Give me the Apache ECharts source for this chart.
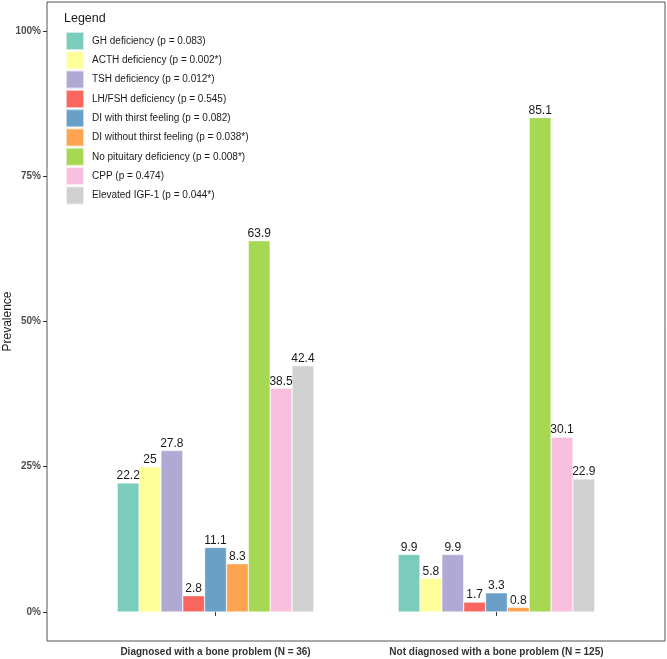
<!DOCTYPE html>
<html>
<head>
<meta charset="utf-8">
<script src="https://cdn.jsdelivr.net/npm/echarts@6/dist/echarts.min.js"></script>
<style>html,body{margin:0;padding:0;background:#fff}#c{width:667px;height:659px}</style>
</head>
<body>
<div id="c"></div>
<script>
const groups = ['Diagnosed with a bone problem (N = 36)', 'Not diagnosed with a bone problem (N = 125)'];
const seriesNames = ['GH deficiency (p = 0.083)', 'ACTH deficiency (p = 0.002*)', 'TSH deficiency (p = 0.012*)', 'LH/FSH deficiency (p = 0.545)', 'DI with thirst feeling (p = 0.082)', 'DI without thirst feeling (p = 0.038*)', 'No pituitary deficiency (p = 0.008*)', 'CPP (p = 0.474)', 'Elevated IGF-1 (p = 0.044*)'];
const diagnosed = [22.2, 25, 27.8, 2.8, 11.1, 8.3, 63.9, 38.5, 42.4];
const notDiagnosed = [9.9, 5.8, 9.9, 1.7, 3.3, 0.8, 85.1, 30.1, 22.9];
const colors = ['#7ACCBB', '#FFFF99', '#B0A9D3', '#F8665E', '#6A9FC8', '#FCA44F', '#A6D854', '#F9BFDF', '#D0D0D0'];
const yTicks = [0, 25, 50, 75, 100];

const font = 'Liberation Sans, Arial, sans-serif';
const chart = echarts.init(document.getElementById('c'), null, {renderer: 'canvas'});
const series = seriesNames.map((n, i) => ({
  name: n,
  type: 'bar',
  barGap: 0,
  barCategoryGap: '30%',
  data: [[1, diagnosed[i]], [2, notDiagnosed[i]]],
  itemStyle: {color: colors[i], borderColor: 'rgba(255,255,255,0.6)', borderWidth: 0.6},
  label: {show: true, position: 'top', distance: 1, fontSize: 12, color: '#1a1a1a', fontFamily: font,
    formatter: p => String(p.value[1])},
  emphasis: {disabled: true}
}));
chart.setOption({
  animation: false,
  textStyle: {fontFamily: font},
  title: {text: 'Legend', left: 64, top: 12, textStyle: {fontSize: 12.5, fontWeight: 'normal', color: '#1a1a1a', fontFamily: font}, padding: 0},
  legend: {
    orient: 'vertical', left: 65, top: 31, padding: 0,
    itemWidth: 18, itemHeight: 18, itemGap: -0.7,
    icon: 'rect',
    textStyle: {fontSize: 10, color: '#1a1a1a', fontFamily: font, padding: [0, 0, 0, 3]},
    data: seriesNames
  },
  grid: {left: 47, right: 2, top: 2, bottom: 18, show: true, borderColor: '#555', borderWidth: 1, containLabel: false, outerBoundsMode: 'none'},
  xAxis: {
    type: 'value', min: 0.4, max: 2.6,
    splitLine: {show: false},
    axisLine: {show: false},
    axisTick: {show: true, length: 4, lineStyle: {color: '#333'}, customValues: [1, 2]},
    axisLabel: {customValues: [1, 2], formatter: v => groups[Math.round(v) - 1], fontSize: 10, fontWeight: 'bold', color: '#333', margin: 6, fontFamily: font}
  },
  yAxis: {
    type: 'value', min: -5, max: 105,
    name: 'Prevalence', nameLocation: 'middle', nameGap: 33, nameRotate: 90, nameMoveOverlap: false,
    nameTextStyle: {fontSize: 12, color: '#1a1a1a', fontFamily: font},
    splitLine: {show: false},
    axisLine: {show: false},
    axisTick: {show: true, length: 4, lineStyle: {color: '#333'}, customValues: yTicks},
    axisLabel: {customValues: yTicks, formatter: v => v + '%', fontSize: 10, fontWeight: 'bold', color: '#4d4d4d', margin: 6, fontFamily: font}
  },
  series: series
});
</script>
</body>
</html>
